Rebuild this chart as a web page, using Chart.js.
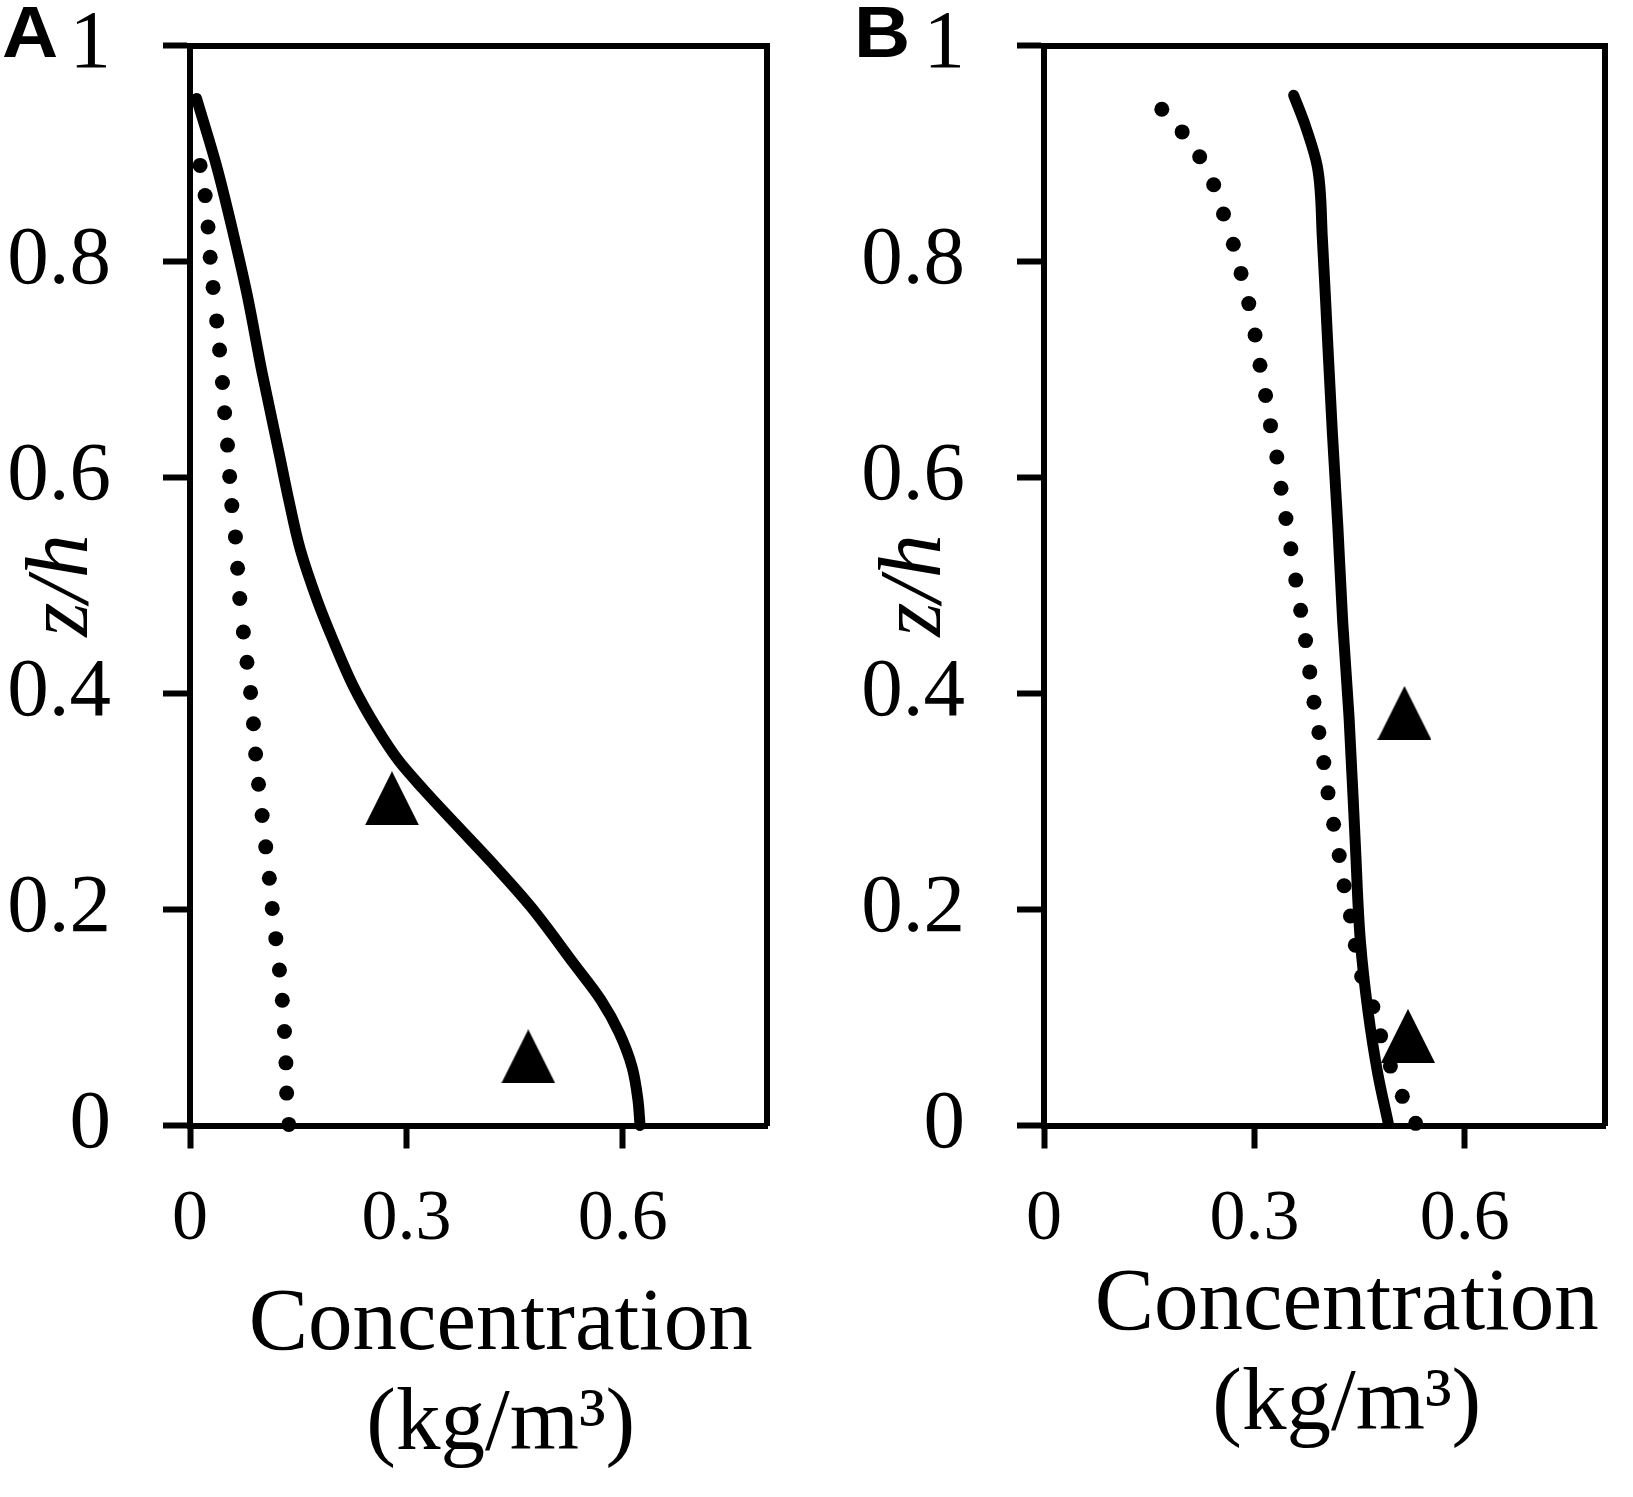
<!DOCTYPE html>
<html>
<head>
<meta charset="utf-8">
<script src="https://cdn.jsdelivr.net/npm/chart.js@4.4.1/dist/chart.umd.min.js"></script>
<style>
  html, body { margin: 0; padding: 0; background: #fff; }
  #wrap { position: relative; width: 1633px; height: 1497px; }
  canvas { position: absolute; top: 0; }
  #chartA { left: 0; }
  #chartB { left: 816px; }
</style>
</head>
<body>
<div id="wrap">
  <canvas id="chartA" width="816" height="1497"></canvas>
  <canvas id="chartB" width="817" height="1497"></canvas>
</div>
<script>
// axis ticks
var yTicks = [0, 0.2, 0.4, 0.6, 0.8, 1];
var yTickLabels = ["0", "0.2", "0.4", "0.6", "0.8", "1"];
var xTicks = [0, 0.3, 0.6];
var xTickLabels = ["0", "0.3", "0.6"];

// panel A - solid profile
var aSolidX = [0.009, 0.037, 0.060, 0.079, 0.100, 0.124, 0.137, 0.153, 0.176, 0.198, 0.227, 0.258, 0.289, 0.324, 0.367, 0.419, 0.472, 0.532, 0.570, 0.595, 0.613, 0.621, 0.624];
var aSolidZ = [0.951, 0.888, 0.826, 0.770, 0.697, 0.621, 0.579, 0.533, 0.487, 0.450, 0.406, 0.369, 0.338, 0.311, 0.280, 0.243, 0.203, 0.150, 0.116, 0.086, 0.054, 0.024, 0.000];
// panel A - dotted profile
var aDotX = [0.014, 0.021, 0.025, 0.028, 0.032, 0.037, 0.041, 0.045, 0.048, 0.052, 0.055, 0.058, 0.063, 0.066, 0.069, 0.074,
             0.079, 0.084, 0.088, 0.091, 0.095, 0.100, 0.105, 0.110, 0.114, 0.119, 0.124, 0.128, 0.131, 0.133, 0.134, 0.137];
var aDotZ = [0.889, 0.861, 0.832, 0.804, 0.776, 0.745, 0.718, 0.688, 0.660, 0.630, 0.601, 0.574, 0.545, 0.516, 0.488, 0.457,
             0.429, 0.401, 0.372, 0.344, 0.316, 0.287, 0.258, 0.229, 0.201, 0.173, 0.144, 0.116, 0.087, 0.058, 0.030, 0.001];
// panel A - measured
var aObsX = [0.280, 0.469];
var aObsZ = [0.303, 0.064];

// panel B - solid profile
var bSolidX = [0.356, 0.372, 0.390, 0.397, 0.404, 0.411, 0.419, 0.426, 0.435, 0.444, 0.451, 0.462, 0.476, 0.491];
var bSolidZ = [0.954, 0.927, 0.887, 0.821, 0.732, 0.644, 0.555, 0.466, 0.378, 0.260, 0.172, 0.106, 0.048, 0.002];
// panel B - dotted profile
var bDotX = [0.168, 0.197, 0.222, 0.242, 0.256, 0.270, 0.281, 0.292, 0.301, 0.308, 0.316, 0.323, 0.332, 0.338, 0.345, 0.352,
             0.359, 0.366, 0.373, 0.379, 0.385, 0.392, 0.399, 0.405, 0.413, 0.421, 0.428, 0.437, 0.444, 0.453, 0.469, 0.480,
             0.494, 0.511, 0.530];
var bDotZ = [0.941, 0.920, 0.897, 0.871, 0.844, 0.816, 0.789, 0.761, 0.732, 0.704, 0.676, 0.648, 0.619, 0.590, 0.562, 0.534,
             0.505, 0.477, 0.449, 0.420, 0.392, 0.364, 0.336, 0.308, 0.279, 0.250, 0.222, 0.194, 0.167, 0.138, 0.110, 0.083,
             0.055, 0.027, 0.002];
// panel B - measured
var bObsX = [0.514, 0.519];
var bObsZ = [0.382, 0.083];

var serif = "'Liberation Serif', 'Times New Roman', serif";
Chart.defaults.font.family = serif;
Chart.defaults.color = "#000";

function pts(xs, zs) {
  return xs.map(function(x, i) { return { x: x, y: zs[i] }; });
}

// filled triangle marker, a bit taller than equilateral
var tri = document.createElement("canvas");
tri.width = 54;
tri.height = 54;
(function() {
  var c = tri.getContext("2d");
  c.fillStyle = "#000";
  c.beginPath();
  c.moveTo(27, 0);
  c.lineTo(54, 54);
  c.lineTo(0, 54);
  c.closePath();
  c.fill();
})();

// bold panel letter in the top-left corner
var panelLetter = {
  id: "panelLetter",
  afterDraw: function(chart, args, opts) {
    var ctx = chart.ctx;
    ctx.save();
    ctx.font = "bold 72px 'Liberation Sans', Arial, sans-serif";
    ctx.fillStyle = "#000";
    ctx.textBaseline = "alphabetic";
    ctx.translate(opts.x, opts.y);
    ctx.scale(1.08, 1);
    ctx.fillText(opts.text, 0, 0);
    ctx.restore();
  }
};

function makePanel(id, p) {
  var ctx = document.getElementById(id).getContext("2d");
  return new Chart(ctx, {
    type: "line",
    plugins: [panelLetter],
    data: {
      datasets: [
        {
          data: pts(p.solidX, p.solidZ),
          borderColor: "#000",
          borderWidth: 11,
          borderCapStyle: "round",
          borderJoinStyle: "round",
          cubicInterpolationMode: "monotone",
          pointRadius: 0,
          fill: false,
          clip: false
        },
        {
          data: pts(p.dotX, p.dotZ),
          showLine: false,
          pointRadius: 7.5,
          pointBorderWidth: 0,
          pointBackgroundColor: "#000",
          clip: false
        },
        {
          data: pts(p.obsX, p.obsZ),
          showLine: false,
          pointStyle: tri,
          pointRadius: 27,
          clip: false
        }
      ]
    },
    options: {
      indexAxis: "y",
      responsive: false,
      animation: false,
      events: [],
      layout: { padding: { left: 0, right: p.padRight, top: 45.5, bottom: 0 } },
      plugins: {
        legend: { display: false },
        tooltip: { enabled: false },
        panelLetter: { text: p.letter, x: p.letterX, y: p.letterY }
      },
      scales: {
        x: {
          type: "linear",
          position: "bottom",
          min: 0,
          max: 0.8,
          afterBuildTicks: function(scale) {
            scale.ticks = xTicks.map(function(v) { return { value: v }; });
          },
          afterFit: function(scale) {
            scale.height = 371.5;
            scale.paddingLeft = 0;
            scale.paddingRight = 0;
          },
          ticks: {
            padding: 28,
            font: { size: 72, lineHeight: 1.2 },
            callback: function(value, index) { return xTickLabels[index]; }
          },
          grid: { display: true, drawOnChartArea: false, drawTicks: true, tickLength: 23, tickWidth: 6, tickColor: "#000" },
          border: { display: true, width: 6, color: "#000" },
          title: {
            display: true,
            text: ["\u2002Concentration", "\u2002(kg/m\u00b3)"],
            font: { size: 89, lineHeight: 100 / 89 },
            padding: { top: 0, bottom: p.xTitleBottom }
          }
        },
        y: {
          type: "linear",
          position: "left",
          min: 0,
          max: 1,
          afterBuildTicks: function(scale) {
            scale.ticks = yTicks.map(function(v) { return { value: v }; });
          },
          afterFit: function(scale) {
            scale.width = p.yWidth;
            scale.paddingTop = 0;
            scale.paddingBottom = 0;
          },
          ticks: {
            padding: 52,
            font: { size: 83, lineHeight: 1.2 },
            callback: function(value, index) { return yTickLabels[index]; }
          },
          grid: { display: true, drawOnChartArea: false, drawTicks: true, tickLength: 27, tickWidth: 6, tickColor: "#000" },
          border: { display: true, width: 6, color: "#000" },
          title: {
            display: true,
            text: "z/h",
            font: { size: 88, style: "italic", lineHeight: 1.2 },
            padding: { top: p.yTitleTop, bottom: 0 }
          }
        },
        x2: {
          type: "linear",
          position: "top",
          min: 0,
          max: 0.8,
          ticks: { display: false },
          grid: { display: false, drawTicks: false },
          border: { display: true, width: 6, color: "#000" }
        },
        y2: {
          type: "linear",
          position: "right",
          min: 0,
          max: 1,
          ticks: { display: false },
          grid: { display: false, drawTicks: false },
          border: { display: true, width: 6, color: "#000" }
        }
      }
    }
  });
}

makePanel("chartA", {
  solidX: aSolidX, solidZ: aSolidZ, dotX: aDotX, dotZ: aDotZ, obsX: aObsX, obsZ: aObsZ,
  letter: "A", letterX: 2, letterY: 57,
  padRight: 49, yWidth: 190, yTitleTop: 11, xTitleBottom: 21
});

makePanel("chartB", {
  solidX: bSolidX, solidZ: bSolidZ, dotX: bDotX, dotZ: bDotZ, obsX: bObsX, obsZ: bObsZ,
  letter: "B", letterX: 38, letterY: 57,
  padRight: 8, yWidth: 228, yTitleTop: 48.5, xTitleBottom: 41
});
</script>
</body>
</html>
